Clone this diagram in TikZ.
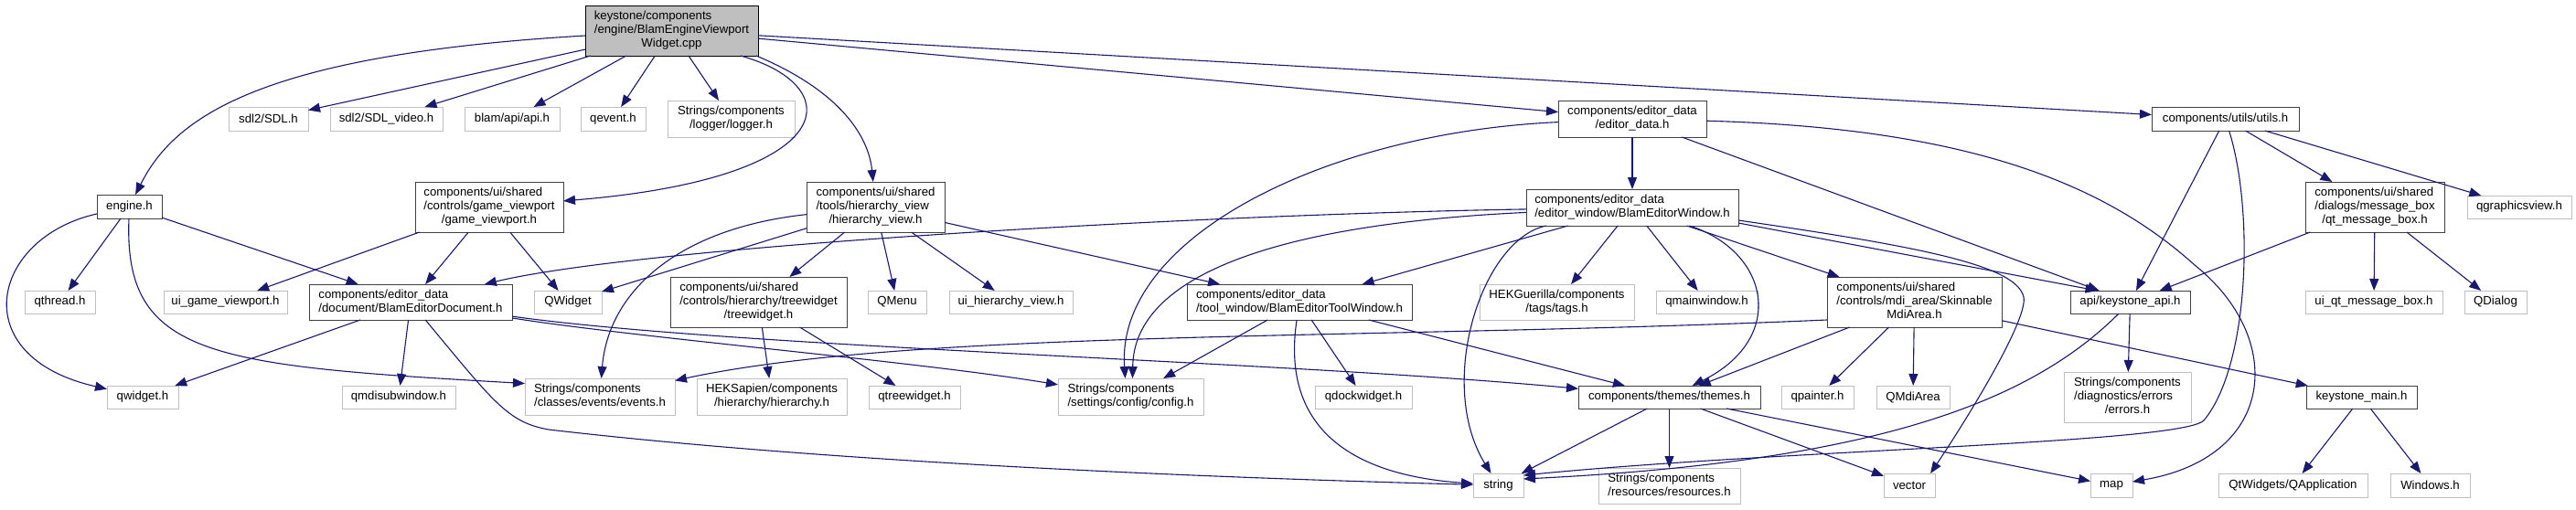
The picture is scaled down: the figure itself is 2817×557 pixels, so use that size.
\documentclass[tikz,border=0pt]{standalone}
\usepackage{fontspec}
\setmainfont{Liberation Sans}
\usetikzlibrary{arrows.meta}
\definecolor{edgec}{HTML}{191970}
\definecolor{docb}{HTML}{404040}
\definecolor{extb}{HTML}{BFBFBF}
\definecolor{rootf}{HTML}{BFBFBF}
\newcommand{\nf}{\fontsize{13.2pt}{15pt}\selectfont}
\newcommand{\Ltwo}[2]{\begin{tabular}{@{}l@{}}#1\\\multicolumn{1}{@{}c@{}}{#2}\end{tabular}}
\newcommand{\Lthree}[3]{\begin{tabular}{@{}l@{}}#1\\#2\\\multicolumn{1}{@{}c@{}}{#3}\end{tabular}}
\begin{document}
\begin{tikzpicture}[x=1pt,y=-1pt,
  nd/.style={rectangle, inner sep=0pt, outer sep=0pt, font=\nf, line width=1pt, fill=white},
  docn/.style={nd, draw=docb},
  extn/.style={nd, draw=extb},
  rootn/.style={nd, draw=black, fill=rootf},
  sz/.style 2 args={minimum width=#1pt, minimum height=#2pt},
  e/.style={draw=edgec, line width=1.1pt, -{Triangle[length=13pt,width=10pt]}}
]
\path[use as bounding box, fill=white] (0,0) rectangle (2817,557);
% row 0
\node[rootn, sz={189}{55}] (root) at (734.5,33.5) {\Lthree{keystone/components}{/engine/BlamEngineViewport}{Widget.cpp}};
% row 1
\node[extn, sz={87}{26}] (sdl) at (293.5,130) {sdl2/SDL.h};
\node[extn, sz={123}{26}] (sdlv) at (422.5,130) {sdl2/SDL\_video.h};
\node[extn, sz={104}{26}] (api) at (560,130) {blam/api/api.h};
\node[extn, sz={71}{26}] (qevent) at (670.5,130) {qevent.h};
\node[extn, sz={139}{40}] (logger) at (799.5,130) {\Ltwo{Strings/components}{/logger/logger.h}};
\node[docn, sz={162}{40}] (ed) at (1785,130) {\Ltwo{components/editor\_data}{/editor\_data.h}};
\node[docn, sz={161}{26}] (utils) at (2433.5,130) {components/utils/utils.h};
% row 2
\node[docn, sz={71}{26}] (engine) at (141.5,226) {engine.h};
\node[docn, sz={162}{55}] (gvp) at (535,226.5) {\Lthree{components/ui/shared}{/controls/game\_viewport}{/game\_viewport.h}};
\node[docn, sz={151}{55}] (hv) at (957.5,226.5) {\Lthree{components/ui/shared}{/tools/hierarchy\_view}{/hierarchy\_view.h}};
\node[docn, sz={232}{40}] (bew) at (1785,227) {\Ltwo{components/editor\_data}{/editor\_window/BlamEditorWindow.h}};
\node[docn, sz={152}{55}] (qmb) at (2597,226.5) {\Lthree{components/ui/shared}{/dialogs/message\_box}{/qt\_message\_box.h}};
\node[extn, sz={114}{25}] (qgv) at (2755,226.5) {qgraphicsview.h};
% row 3
\node[extn, sz={77}{25}] (qthread) at (65.5,330.5) {qthread.h};
\node[extn, sz={135}{25}] (uigvp) at (246.5,330.5) {ui\_game\_viewport.h};
\node[docn, sz={222}{39}] (bed) at (449,330.5) {\Ltwo{components/editor\_data}{/document/BlamEditorDocument.h}};
\node[extn, sz={74}{25}] (QWidget) at (621,330.5) {QWidget};
\node[docn, sz={193}{55}] (tw) at (829.5,330.5) {\Lthree{components/ui/shared}{/controls/hierarchy/treewidget}{/treewidget.h}};
\node[extn, sz={64}{25}] (QMenu) at (981,330.5) {QMenu};
\node[extn, sz={135}{25}] (uihv) at (1105.5,330.5) {ui\_hierarchy\_view.h};
\node[docn, sz={246}{39}] (betw) at (1421,330.5) {\Ltwo{components/editor\_data}{/tool\_window/BlamEditorToolWindow.h}};
\node[extn, sz={169}{39}] (tags) at (1702.5,330.5) {\Ltwo{HEKGuerilla/components}{/tags/tags.h}};
\node[extn, sz={111}{25}] (qmw) at (1866.5,330.5) {qmainwindow.h};
\node[docn, sz={191}{55}] (smdi) at (2093.5,330.5) {\Lthree{components/ui/shared}{/controls/mdi\_area/Skinnable}{MdiArea.h}};
\node[docn, sz={131}{25}] (kapi) at (2329.5,330.5) {api/keystone\_api.h};
\node[extn, sz={150}{25}] (uiqmb) at (2596,330.5) {ui\_qt\_message\_box.h};
\node[extn, sz={68}{25}] (QDialog) at (2729,330.5) {QDialog};
% row 4
\node[extn, sz={78}{25}] (qwidget) at (156,434.5) {qwidget.h};
\node[extn, sz={124}{25}] (qmdisub) at (436,434.5) {qmdisubwindow.h};
\node[extn, sz={164}{40}] (events) at (656,434) {\Ltwo{Strings/components}{/classes/events/events.h}};
\node[extn, sz={164}{40}] (hier) at (844,434) {\Ltwo{HEKSapien/components}{/hierarchy/hierarchy.h}};
\node[extn, sz={100}{25}] (qtw) at (1000,434.5) {qtreewidget.h};
\node[extn, sz={159}{40}] (config) at (1236.5,434) {\Ltwo{Strings/components}{/settings/config/config.h}};
\node[extn, sz={106}{25}] (qdock) at (1491,434.5) {qdockwidget.h};
\node[docn, sz={199}{25}] (themes) at (1825.5,434.5) {components/themes/themes.h};
\node[extn, sz={79}{25}] (qpainter) at (1987.5,434.5) {qpainter.h};
\node[extn, sz={80}{25}] (QMdiArea) at (2092,434.5) {QMdiArea};
\node[extn, sz={139}{55}] (errors) at (2326.5,434.5) {\Lthree{Strings/components}{/diagnostics/errors}{/errors.h}};
\node[docn, sz={121}{25}] (kmain) at (2582.5,434.5) {keystone\_main.h};
% row 5
\node[extn, sz={55}{26}] (string) at (1638.5,531) {string};
\node[extn, sz={155}{39}] (resources) at (1825.5,531.5) {\Ltwo{Strings/components}{/resources/resources.h}};
\node[extn, sz={56}{26}] (vector) at (2088,531) {vector};
\node[extn, sz={46}{26}] (map) at (2309,531) {map};
\node[extn, sz={163}{26}] (qapp) at (2507.5,531) {QtWidgets/QApplication};
\node[extn, sz={87}{26}] (windows) at (2657.5,531) {Windows.h};

% edges from root
\draw[e] (root) .. controls (280,60) and (190,130) .. (engine);
\draw[e] (root) -- (sdl);
\draw[e] (root) -- (sdlv);
\draw[e] (root) -- (api);
\draw[e] (root) -- (qevent);
\draw[e] (root) -- (logger);
\draw[e] ([xshift=-19pt]root.south east) .. controls (930,95) and (920,195) .. (gvp);
\draw[e] ([xshift=-2pt]root.south east) .. controls (920,100) and (950,150) .. (hv);
\draw[e] (root) -- (ed);
\draw[e] (root) -- (utils);
% engine
\draw[e] (engine) -- (qthread);
\draw[e] (engine) .. controls (-10,260) and (-40,390) .. (qwidget);
\draw[e] (engine) .. controls (135,390) and (230,400) .. (events.170);
\draw[e] (engine) -- (bed);
% game viewport
\draw[e] (gvp) -- (uigvp);
\draw[e] (gvp) -- (bed);
\draw[e] (gvp) -- (QWidget);
% hierarchy view
\draw[e] (hv) -- (QWidget);
\draw[e] (hv) .. controls (740,250) and (665,320) .. (events);
\draw[e] (hv) -- (tw);
\draw[e] (hv) -- (QMenu);
\draw[e] (hv) -- (uihv);
\draw[e] (hv) -- (betw);
% editor data
\draw[e] (ed) -- (bew);
\draw[e] (ed) .. controls (1450,145) and (1220,260) .. ([xshift=-6pt]config.north);
\draw[e] (ed) -- (kapi);
\draw[e] (ed) .. controls (2150,140) and (2300,200) .. (2400,290) .. controls (2500,370) and (2490,500) .. (map);
% utils
\draw[e] (utils) -- (kapi);
\draw[e] (utils) .. controls (2465,230) and (2460,400) .. (2410,460) .. controls (2385,485) and (1950,492) .. ([yshift=-2pt]string.north east);
\draw[e] (utils) -- (qmb);
\draw[e] (utils) -- (qgv);
% editor window
\draw[e] (bew) .. controls (1300,235) and (700,270) .. (bed);
\draw[e] (bew) .. controls (1400,245) and (1240,300) .. ([xshift=2pt]config.north);
\draw[e] (bew) -- (betw);
\draw[e] (bew) .. controls (1620,262) and (1570,420) .. (string);
\draw[e] (bew) -- (tags);
\draw[e] (bew) -- (qmw);
\draw[e] (bew) .. controls (1935,275) and (1955,370) .. (themes);
\draw[e] (bew) -- (smdi);
\draw[e] ([yshift=3pt]bew.south east) -- ([xshift=-36pt]kapi.north);
\draw[e] ([yshift=6pt]bew.south east) .. controls (2100,270) and (2205,290) .. (2213,325) .. controls (2218,350) and (2150,460) .. ([xshift=-5pt]vector.north east);
% editor document
\draw[e] (bed) -- (qwidget);
\draw[e] (bed) -- (qmdisub);
\draw[e] (bed) .. controls (540,440) and (555,462) .. (600,470) .. controls (900,505) and (1300,522) .. (string);
\draw[e] (bed) .. controls (700,370) and (1000,395) .. (config);
\draw[e] (bed) .. controls (800,380) and (1400,395) .. (themes);
% treewidget
\draw[e] (tw) -- (qtw);
\draw[e] (tw) -- (hier);
% tool window
\draw[e] (betw) -- (config);
\draw[e] (betw) -- (qdock);
\draw[e] (betw) -- (themes);
\draw[e] (betw) .. controls (1400,470) and (1480,520) .. (string);
% skinnable mdi area
\draw[e] ([yshift=8pt]smdi.south west) .. controls (1500,372) and (1000,360) .. (events);
\draw[e] (smdi) -- (themes);
\draw[e] (smdi) -- (qpainter);
\draw[e] (smdi) -- (QMdiArea);
\draw[e] (smdi) -- (kmain);
% keystone api
\draw[e] (kapi) -- (errors);
\draw[e] (kapi) .. controls (2220,440) and (2050,505) .. ([yshift=-6pt]string.north east);
% message box
\draw[e] (qmb) -- (kapi);
\draw[e] (qmb) -- (uiqmb);
\draw[e] (qmb) -- (QDialog);
% themes
\draw[e] (themes) -- (string);
\draw[e] (themes) -- (resources);
\draw[e] (themes) -- (vector);
\draw[e] (themes) -- (map);
% keystone main
\draw[e] (kmain) -- (qapp);
\draw[e] (kmain) -- (windows);
\end{tikzpicture}
\end{document}
